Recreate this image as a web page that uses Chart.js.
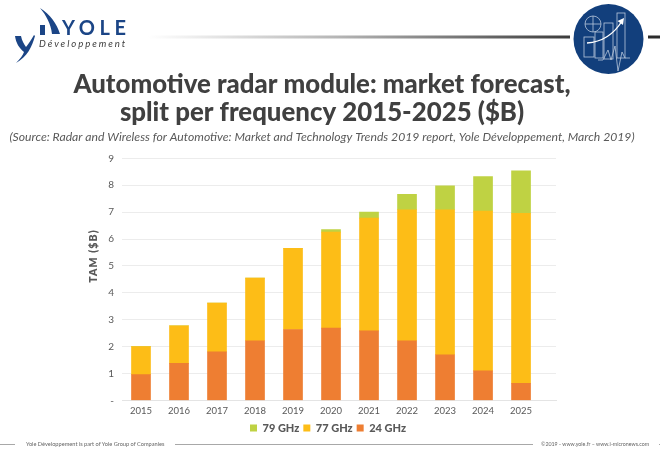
<!DOCTYPE html>
<html>
<head>
<meta charset="utf-8">
<script src="https://cdn.jsdelivr.net/npm/chart.js@4"></script>
<style>
  html, body { margin: 0; padding: 0; background: #fff; }
  #wrap { position: relative; width: 660px; height: 456px; overflow: hidden; font-family: Lato, sans-serif; }
  #wrap canvas { position: absolute; left: 0; top: 0; }
  .deco { position: absolute; left: 0; top: 0; }
  .foot { position: absolute; top: 440px; line-height: 8px; color: #666; white-space: nowrap; }
  #ytitle { position: absolute; left: 93px; top: 256px; transform: translate(-50%, -50%) rotate(-90deg);
            font: 800 10.5px Lato, sans-serif; letter-spacing: 1.1px; color: #595959; white-space: nowrap; }
</style>
</head>
<body>
<div id="wrap">
  <canvas id="chart" width="660" height="456"></canvas>

  <svg class="deco" width="660" height="456">
    <defs>
      <linearGradient id="rule" x1="0" x2="1" y1="0" y2="0">
        <stop offset="0" stop-color="#fff"/>
        <stop offset="0.45" stop-color="#b5b5b5"/>
        <stop offset="1" stop-color="#3c3c3c"/>
      </linearGradient>
    </defs>

    <!-- header rule -->
    <rect x="148" y="35.5" width="422" height="3" fill="url(#rule)"/>
    <rect x="648" y="35.5" width="12" height="3" fill="#2c2c2c"/>

    <!-- logo -->
    <path d="M40 8 C50 14 57 24 60 34 L52 34 C51 24 46 15 40 8 Z" fill="#1b4586"/>
    <rect x="40" y="25" width="5" height="10" fill="#1b4586"/>
    <path d="M15 36 L21 36 C22 41 24 44 26 47 C29 43 31 40 34 35 L35 36 C32 47 27 57 16 63 C20 59 23 55 24 52 C19 48 16 43 15 36 Z" fill="#1b4586"/>
    <text x="62" y="35" font-family="Lato" font-weight="700" font-size="20" letter-spacing="4.6" fill="#1b4586">YOLE</text>
    <text x="39" y="47" font-family="Lato" font-style="italic" font-size="9.6" letter-spacing="1.95" fill="#3b3b3b">Développement</text>

    <!-- report icon -->
    <circle cx="608.5" cy="39" r="35" fill="#123f7c"/>
    <g fill="none" stroke="#b9c8dc" stroke-width="0.8">
      <circle cx="593" cy="24" r="8"/>
      <path d="M585 24 H601 M593 16 V32"/>
      <rect x="584" y="37" width="10" height="20"/>
      <rect x="595" y="32" width="8" height="26"/>
      <rect x="604" y="23" width="9" height="36"/>
      <rect x="617" y="13" width="8" height="45"/>
      <path d="M598 60 H603 L608 50 L611 60 L615 46 L618 71 L622 52 L625 58 H630"/>
    </g>
    <path d="M587 43 C602 42 614 34 622 21" fill="none" stroke="#fff" stroke-width="1.4"/>
    <path d="M624 18 L617.5 21 L623 25 Z" fill="#fff"/>

    <!-- footer rules -->
    <g stroke="#a8a8a8" stroke-width="1">
      <path d="M0 444.5 H15"/>
      <path d="M175 444.5 H533"/>
      <path d="M659 444.5 H660"/>
    </g>
  </svg>

  <div class="foot" style="left:26px;font-size:5.65px">Yole Développement is part of Yole Group of Companies</div>
  <div class="foot" style="left:541px;font-size:5.3px">©2019 - www.yole.fr – www.i-micronews.com</div>
  <div id="ytitle">TAM ($B)</div>
</div>

<script>
const years = [2015, 2016, 2017, 2018, 2019, 2020, 2021, 2022, 2023, 2024, 2025];
const ghz24 = [0.96, 1.38, 1.81, 2.22, 2.64, 2.69, 2.59, 2.22, 1.70, 1.10, 0.64];
const ghz77 = [1.04, 1.40, 1.81, 2.33, 3.02, 3.57, 4.19, 4.87, 5.39, 5.94, 6.32];
const ghz79 = [0, 0, 0, 0, 0, 0.09, 0.22, 0.57, 0.89, 1.28, 1.58];
const titleLines = ["Automotive radar module: market forecast,", "split per frequency 2015-2025 ($B)"];
const sourceLine = "(Source: Radar and Wireless for Automotive: Market and Technology Trends 2019 report, Yole Développement, March 2019)";

const textColor = "#595959";

function points(values) {
    return values.map((v, i) => ({ x: years[i], y: v }));
}

// the legend sits a little right of the title's centre
const nudgeLegend = {
    id: "nudgeLegend",
    afterLayout(chart) {
        chart.legend.left += 6;
        chart.legend.right += 6;
    }
};

new Chart(document.getElementById("chart"), {
    type: "bar",
    data: {
        datasets: [
            { label: "24 GHz", data: points(ghz24), backgroundColor: "#EE7E32" },
            { label: "77 GHz", data: points(ghz77), backgroundColor: "#FDBD17" },
            { label: "79 GHz", data: points(ghz79), backgroundColor: "#BFD243" }
        ]
    },
    options: {
        responsive: false,
        animation: false,
        barThickness: 19,
        layout: { padding: { left: 0, right: 16, top: 0, bottom: 12.5 } },
        plugins: {
            title: {
                display: true,
                text: titleLines,
                color: "#404040",
                font: { family: "Lato", size: 25.8, weight: "900", lineHeight: 1.08 },
                padding: { top: 71, bottom: 3 }
            },
            subtitle: {
                display: true,
                text: sourceLine,
                color: textColor,
                font: { family: "Lato", size: 12.2, style: "italic", weight: "normal" },
                padding: { top: 0, bottom: 14 }
            },
            legend: {
                position: "bottom",
                reverse: true,
                labels: {
                    boxWidth: 7,
                    boxHeight: 7,
                    padding: 4,
                    color: textColor,
                    font: { family: "Lato", size: 11, weight: "900" }
                }
            },
            tooltip: { enabled: false }
        },
        scales: {
            x: {
                type: "linear",
                offset: false,
                stacked: true,
                min: 2014.5,
                max: 2025.92,
                afterBuildTicks: axis => { axis.ticks = years.map(y => ({ value: y })); },
                afterFit: axis => { axis.height = 18; },
                grid: { display: false, drawTicks: false },
                border: { color: "#e4e4e4" },
                ticks: {
                    autoSkip: false,
                    maxRotation: 0,
                    color: textColor,
                    font: { family: "Lato", size: 9.5 },
                    padding: 5,
                    callback: v => String(v)
                }
            },
            y: {
                stacked: true,
                min: 0,
                max: 9,
                afterFit: axis => { axis.width = 122; },
                grid: { color: "#ececec", drawTicks: false },
                border: { display: false },
                ticks: {
                    stepSize: 1,
                    color: textColor,
                    font: { family: "Lato", size: 10 },
                    padding: 8,
                    callback: v => (v === 0 ? "-" : v)
                }
            },
            // empty axis that keeps the plot clear of the right margin
            spacer: {
                position: "right",
                afterFit: axis => { axis.width = 88; },
                grid: { display: false },
                border: { display: false },
                ticks: { display: false }
            }
        }
    },
    plugins: [nudgeLegend]
});
</script>
</body>
</html>
